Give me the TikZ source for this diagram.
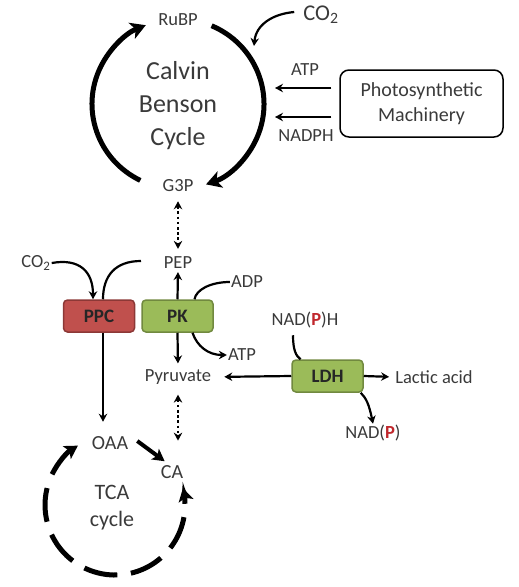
\documentclass[tikz,border=0pt]{standalone}
\usepackage{fontspec}
\setmainfont{Carlito}
\usetikzlibrary{arrows.meta}
\definecolor{txt}{HTML}{3A3A3A}
\definecolor{ppcfill}{HTML}{C0504D}
\definecolor{ppcdraw}{HTML}{8C3836}
\definecolor{pkfill}{HTML}{9BBB59}
\definecolor{pkdraw}{HTML}{71893F}
\definecolor{pred}{HTML}{C0282D}
\begin{document}
\begin{tikzpicture}[x=1pt,y=-1pt,
  lbl/.style={font=\fontsize{18.5}{20}\selectfont, text=txt, inner sep=1pt},
  bigtxt/.style={font=\fontsize{26}{33}\selectfont, text=txt, align=center},
  tcatxt/.style={font=\fontsize{22}{27}\selectfont, text=txt, align=center},
  enz/.style={line width=1.5pt, rounded corners=4pt, minimum width=71pt, minimum height=32pt, font=\fontsize{19}{20}\selectfont\bfseries, text=black!85, inner sep=0pt},
  ppcbox/.style={enz, fill=ppcfill, draw=ppcdraw},
  pkbox/.style={enz, fill=pkfill, draw=pkdraw},
  thinarr/.style={line width=2.2pt, -{Stealth[length=8pt,width=8.5pt]}},
  plainln/.style={line width=2.2pt},
  dotarr/.style={line width=2.6pt, dash pattern=on 2.6pt off 2.6pt, {Stealth[length=8pt,width=8.5pt]}-{Stealth[length=8pt,width=8.5pt]}},
  cycarr/.style={line width=5pt, -{Stealth[length=15pt,width=17pt,inset=4pt]}},
  tcadash/.style={line width=5pt, dash pattern=on 34pt off 13.7pt},
  tcaarr/.style={line width=5pt, -{Stealth[length=13pt,width=15pt,inset=3pt]}},
]
\useasboundingbox (0,0) rectangle (519,587);

% Calvin Benson cycle
\coordinate (cbc) at (178,104);
\node[lbl] (rubp) at (178,20) {RuBP};
\node[lbl] (g3p) at (178,186) {G3P};
\node[bigtxt] (calvin) at (178,106) {Calvin\\Benson\\Cycle};
\draw[cycarr] (cbc) ++(-244:86 and 85) arc[start angle=-244, end angle=-112, x radius=86, y radius=85];
\draw[cycarr] (cbc) ++(-67:86 and 85) arc[start angle=-67, end angle=71, x radius=86, y radius=85];

\node[lbl, font=\fontsize{22.5}{24}\selectfont] (co2t) at (321,15) {CO\textsubscript{2}};
\coordinate (co2tip) at (254,46);
\draw[thinarr] ([xshift=-8pt,yshift=3pt]co2t.west) .. controls (272,14) and (256,25) .. (co2tip);

\node[draw, line width=1.5pt, rounded corners=9pt, minimum width=163pt, minimum height=67pt,
  font=\fontsize{20}{25}\selectfont, text=txt, align=center] (psm) at (421.5,103.5) {Photosynthetic\\Machinery};
\coordinate (atpend) at (275,88);
\coordinate (nadphend) at (275,117);
\draw[thinarr] ([xshift=-8pt]psm.west |- atpend) -- (atpend);
\draw[thinarr] ([xshift=-8pt]psm.west |- nadphend) -- (nadphend);
\node[lbl] (atp1) at (305,70) {ATP};
\node[lbl] (nadph1) at (306,136) {NADPH};

% G3P <-> PEP
\node[lbl] (pep) at (178,263) {PEP};
\draw[dotarr, shorten <=8pt, shorten >=7pt] (g3p) -- (pep);

% PPC / PK
\node[ppcbox] (ppc) at (99,316) {PPC};
\node[pkbox] (pk) at (177.5,316) {PK};
\node[lbl] (co2l) at (36,263) {CO\textsubscript{2}};
\draw[thinarr] (co2l.east) .. controls (80,258) and (93,272) .. ([xshift=-6pt]ppc.north);
\coordinate (ppcfree) at (141,261);
\draw[plainln] ([xshift=4pt]ppc.north) .. controls (103,276) and (115,261) .. (ppcfree);
\draw[thinarr] ([xshift=4pt]ppc.south) -- ++(0,89);

\node[lbl] (adp) at (247,282) {ADP};
\node[lbl] (atp2) at (242,355) {ATP};
\node[lbl] (pyr) at (178,377) {Pyruvate};
\draw[thinarr, shorten >=2pt] (pk.north) -- (pep.south);
\draw[thinarr, shorten >=5pt] (pk.south) -- (pyr.north);
\draw[plainln] (adp.west) .. controls (210,282) and (196,290) .. ([xshift=17pt]pk.north);
\draw[thinarr] ([xshift=15pt]pk.south) .. controls (197,346) and (208,355) .. (atp2.west);

% LDH
\node[pkbox] (ldh) at (327.5,376) {LDH};
\node[lbl] (nadph2) at (305,320) {NAD(\textcolor{pred}{\textbf{P}})H};
\node[lbl] (lactic) at (434,377) {Lactic acid};
\node[lbl] (nadp) at (373,433) {NAD(\textcolor{pred}{\textbf{P}})};
\draw[thinarr, shorten >=12pt] (ldh.west) -- (pyr.east);
\draw[thinarr, shorten >=5pt] (ldh.east) -- (lactic.west);
\draw[plainln] ([xshift=-12pt,yshift=-6pt]nadph2.south) .. controls (293,350) and (296,356) .. ([xshift=-27pt]ldh.north);
\draw[thinarr] ([xshift=-3pt]ldh.south east) .. controls (366,398) and (369,404) .. (nadp.north);

% Pyruvate <-> CA
\draw[dotarr, shorten <=9pt] (pyr.south) -- ++(0,55);

% TCA cycle
\coordinate (tcac) at (115,505);
\node[lbl, font=\fontsize{20}{22}\selectfont] (oaa) at (110,443) {OAA};
\node[lbl, font=\fontsize{20}{22}\selectfont] (ca) at (172,472) {CA};
\node[tcatxt] (tca) at (112,508) {TCA\\cycle};
\draw[line width=4pt, -{Stealth[length=12pt,width=13pt,inset=3pt]}] ([xshift=8pt,yshift=2pt]oaa.east) -- ([xshift=5pt,yshift=3pt]ca.north west);
\draw[tcadash] (tcac) ++(10:70) arc[start angle=10, end angle=194, radius=70];
\draw[tcaarr] (tcac) ++(206:70) arc[start angle=206, end angle=238, radius=70];
\draw[tcaarr] (tcac) ++(-1:70) arc[start angle=-1, end angle=-14, radius=70];
\end{tikzpicture}
\end{document}
